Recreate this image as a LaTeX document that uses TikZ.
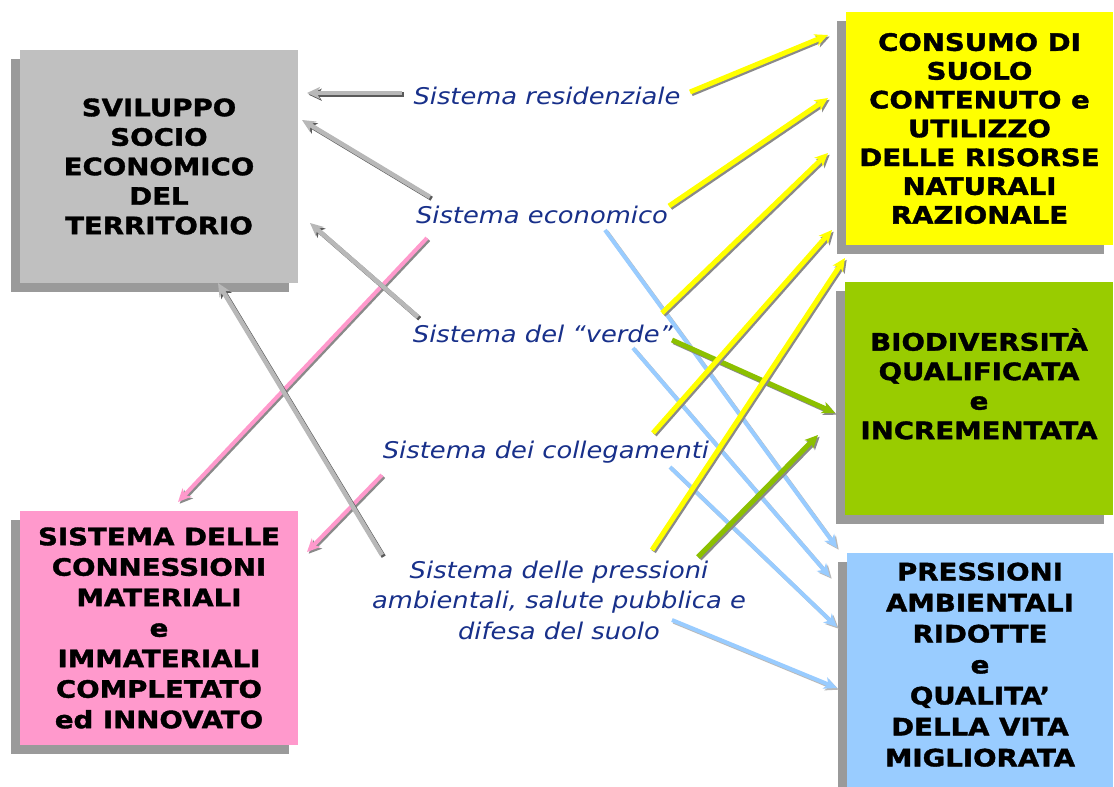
\documentclass[tikz,border=0pt]{standalone}
\usepackage{fontspec}
\newfontfamily\boxfont[FakeStretch=1.15,FakeBold=1.5]{DejaVu Sans}
\newfontfamily\labfont[FakeStretch=1.12]{DejaVu Sans}
\usetikzlibrary{arrows.meta,shadows}
\definecolor{graybox}{HTML}{C0C0C0}
\definecolor{yellowbox}{HTML}{FFFF00}
\definecolor{greenbox}{HTML}{99CC00}
\definecolor{bluebox}{HTML}{99CCFF}
\definecolor{pinkbox}{HTML}{FF99CC}
\definecolor{boxshadow}{HTML}{9A9A9A}
\definecolor{labelblue}{RGB}{24,48,138}
\definecolor{grayarrow}{HTML}{B8B8B8}
\definecolor{arrshadow}{HTML}{5A5A5A}
\definecolor{lightshadow}{HTML}{8A8A8A}
\definecolor{greenarrow}{HTML}{8CC000}
\tikzset{
  box/.style={rectangle, inner sep=0pt, align=center, text=black,
    font=\boxfont\bfseries\fontsize{24}{29.5}\selectfont,
    drop shadow={shadow xshift=-9pt, shadow yshift=-9pt, fill=boxshadow, opacity=1}},
  lab/.style={inner sep=0pt, align=center, text=labelblue,
    font=\labfont\itshape\fontsize{23}{30.5}\selectfont},
  arrbase/.style={-{Stealth[length=13pt,width=12pt,inset=3.5pt]}},
  garr/.style={arrbase, draw=grayarrow, line width=4.5pt},
  parr/.style={arrbase, draw=pinkbox, line width=4pt},
  yarr/.style={arrbase, draw=yellowbox, line width=5pt},
  grarr/.style={arrbase, draw=greenarrow, line width=5pt},
  barr/.style={arrbase, draw=bluebox, line width=4pt},
  shadowof/.style={draw=#1, transform canvas={shift={(1.7,1.7)}}}
}
% a connector with its drop shadow: style, shadow colour, from, to
\newcommand\shadedconn[4]{%
  \draw[#1, shadowof=#2] (#3) -- (#4);
  \draw[#1] (#3) -- (#4);}
\begin{document}
\begin{tikzpicture}[x=1pt,y=-1pt]
\useasboundingbox (0,0) rectangle (1114,787);
\fill[white] (0,0) rectangle (1114,787);

% boxes
\node[box, fill=graybox, minimum width=278pt, minimum height=233pt] (svil) at (159,166.5)
  {SVILUPPO\\SOCIO\\ECONOMICO\\DEL\\TERRITORIO};
\node[box, fill=pinkbox, minimum width=278pt, minimum height=234pt,
  font=\boxfont\bfseries\fontsize{24}{30.5}\selectfont] (conn) at (159,628)
  {SISTEMA DELLE\\CONNESSIONI\\MATERIALI\\e\\IMMATERIALI\\COMPLETATO\\ed INNOVATO};
\node[box, fill=yellowbox, minimum width=267pt, minimum height=233pt,
  font=\boxfont\bfseries\fontsize{24}{28.8}\selectfont] (suolo) at (979.5,128.5)
  {CONSUMO DI\\SUOLO\\CONTENUTO e\\UTILIZZO\\DELLE RISORSE\\NATURALI\\RAZIONALE};
\node[box, fill=greenbox, minimum width=268pt, minimum height=233pt] (bio) at (979,398.5)
  {BIODIVERSITÀ\\QUALIFICATA\\e\\INCREMENTATA\\\phantom{X}};
\node[box, fill=bluebox, minimum width=266pt, minimum height=234pt,
  font=\boxfont\bfseries\fontsize{24}{31}\selectfont] (press) at (980,670)
  {PRESSIONI\\AMBIENTALI\\RIDOTTE\\e\\QUALITA’\\DELLA VITA\\MIGLIORATA\\[-20pt]\mbox{}};

% labels
\node[lab] (res) at (547,96) {Sistema residenziale};
\node[lab] (eco) at (542,215) {Sistema economico};
\node[lab] (ver) at (543,334) {Sistema del “verde”};
\node[lab] (col) at (546,452) {Sistema dei collegamenti};
\node[lab] (pre) at (559,600) {Sistema delle pressioni\\ambientali, salute pubblica e\\difesa del suolo};

% connector end points
\coordinate (res-g) at (402,93);   \coordinate (svil-1) at (307,93);
\coordinate (eco-g) at (430,197);  \coordinate (svil-2) at (302,120);
\coordinate (ver-g) at (418,317);  \coordinate (svil-3) at (310,223);
\coordinate (pre-g) at (382,555);  \coordinate (svil-4) at (218,283);
\coordinate (eco-p) at (427,238);  \coordinate (conn-1) at (178,502);
\coordinate (col-p) at (382,475);  \coordinate (conn-2) at (307,552);
\coordinate (res-y) at (690,92);   \coordinate (suolo-1) at (828,35);
\coordinate (eco-y) at (669,206);  \coordinate (suolo-2) at (828,98);
\coordinate (ver-y) at (662,313);  \coordinate (suolo-3) at (828,153);
\coordinate (col-y) at (653,433);  \coordinate (suolo-4) at (832,230);
\coordinate (pre-y) at (652,550);  \coordinate (suolo-5) at (845,258);
\coordinate (ver-gr) at (672,340); \coordinate (bio-1) at (835,413);
\coordinate (pre-gr) at (698,557); \coordinate (bio-2) at (818,435);
\coordinate (eco-b) at (605,230);  \coordinate (press-1) at (837,548);
\coordinate (ver-b) at (633,348);  \coordinate (press-2) at (830,577);
\coordinate (col-b) at (670,467);  \coordinate (press-3) at (837,627);
\coordinate (pre-b) at (672,620);  \coordinate (press-4) at (837,688);

% connectors
\shadedconn{barr}{lightshadow!60}{eco-b}{press-1}
\shadedconn{barr}{lightshadow!60}{ver-b}{press-2}
\shadedconn{barr}{lightshadow!60}{col-b}{press-3}
\shadedconn{barr}{lightshadow!60}{pre-b}{press-4}
\shadedconn{grarr}{lightshadow}{ver-gr}{bio-1}
\shadedconn{yarr}{lightshadow}{res-y}{suolo-1}
\shadedconn{yarr}{lightshadow}{eco-y}{suolo-2}
\shadedconn{yarr}{lightshadow}{ver-y}{suolo-3}
\shadedconn{yarr}{lightshadow}{col-y}{suolo-4}
\shadedconn{yarr}{lightshadow}{pre-y}{suolo-5}
\shadedconn{grarr}{lightshadow}{pre-gr}{bio-2}
\shadedconn{parr}{lightshadow}{eco-p}{conn-1}
\shadedconn{parr}{lightshadow}{col-p}{conn-2}
\shadedconn{garr}{arrshadow}{res-g}{svil-1}
\shadedconn{garr}{arrshadow}{eco-g}{svil-2}
\shadedconn{garr}{arrshadow}{ver-g}{svil-3}
\shadedconn{garr}{arrshadow}{pre-g}{svil-4}
\end{tikzpicture}
\end{document}
